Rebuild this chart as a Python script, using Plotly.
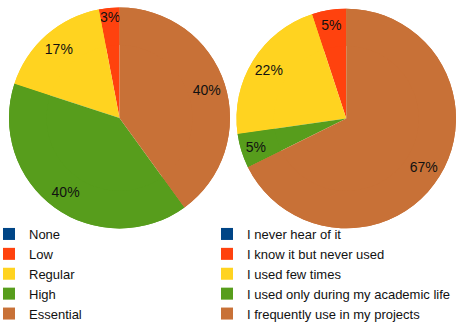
import plotly.graph_objects as go

# Survey answers, one pie per question
levels = ["None", "Low", "Regular", "High", "Essential"]
level_pct = [0, 3, 17, 40, 40]

usage = [
    "I never hear of it",
    "I know it but never used",
    "I used few times",
    "I used only during my academic life",
    "I frequently use in my projects",
]
usage_pct = [0, 5, 22, 5, 67]

colors = ["#004586", "#ff420e", "#ffd320", "#579d1c", "#c87137"]

W, H = 456, 329
FONT = "Liberation Sans, Arial, sans-serif"
TEXT = "#111111"


def templates(vals):
    return ["" if v == 0 else "%{value}%" for v in vals]


def add_pie(labels, vals, domain, legend):
    common = dict(
        labels=labels, values=vals, sort=False, direction="counterclockwise",
        marker=dict(colors=colors, line=dict(width=0)), domain=domain,
    )
    # solid pie carrying the legend entries
    fig.add_trace(go.Pie(textinfo="none", legend=legend,
                         hoverinfo="label+value", **common))
    # matching outer ring that holds the percentage labels near the rim
    fig.add_trace(go.Pie(
        hole=0.66, texttemplate=templates(vals), textposition="inside",
        insidetextorientation="horizontal",
        textfont=dict(size=14, color=TEXT, family=FONT),
        showlegend=False, hoverinfo="skip", **common,
    ))


fig = go.Figure()
add_pie(levels, level_pct,
        dict(x=[9 / W, 230 / W], y=[1 - 228.5 / H, 1 - 7.5 / H]), "legend")
add_pie(usage, usage_pct,
        dict(x=[236.5 / W, 1], y=[1 - 228.5 / H, 1 - 8.5 / H]), "legend2")

legend_style = dict(
    font=dict(size=13, color=TEXT, family=FONT),
    bgcolor="rgba(0,0,0,0)", yanchor="bottom", y=0,
    tracegroupgap=0, itemclick=False, itemdoubleclick=False,
)
fig.update_layout(
    width=W, height=H,
    margin=dict(l=0, r=0, t=0, b=0),
    paper_bgcolor="white",
    font=dict(family=FONT),
    uniformtext=dict(minsize=14, mode="show"),
    legend=dict(x=0, xanchor="left", indentation=-11, **legend_style),
    legend2=dict(x=1, xanchor="right", indentation=-8, **legend_style),
)

fig.write_html("out.html")
